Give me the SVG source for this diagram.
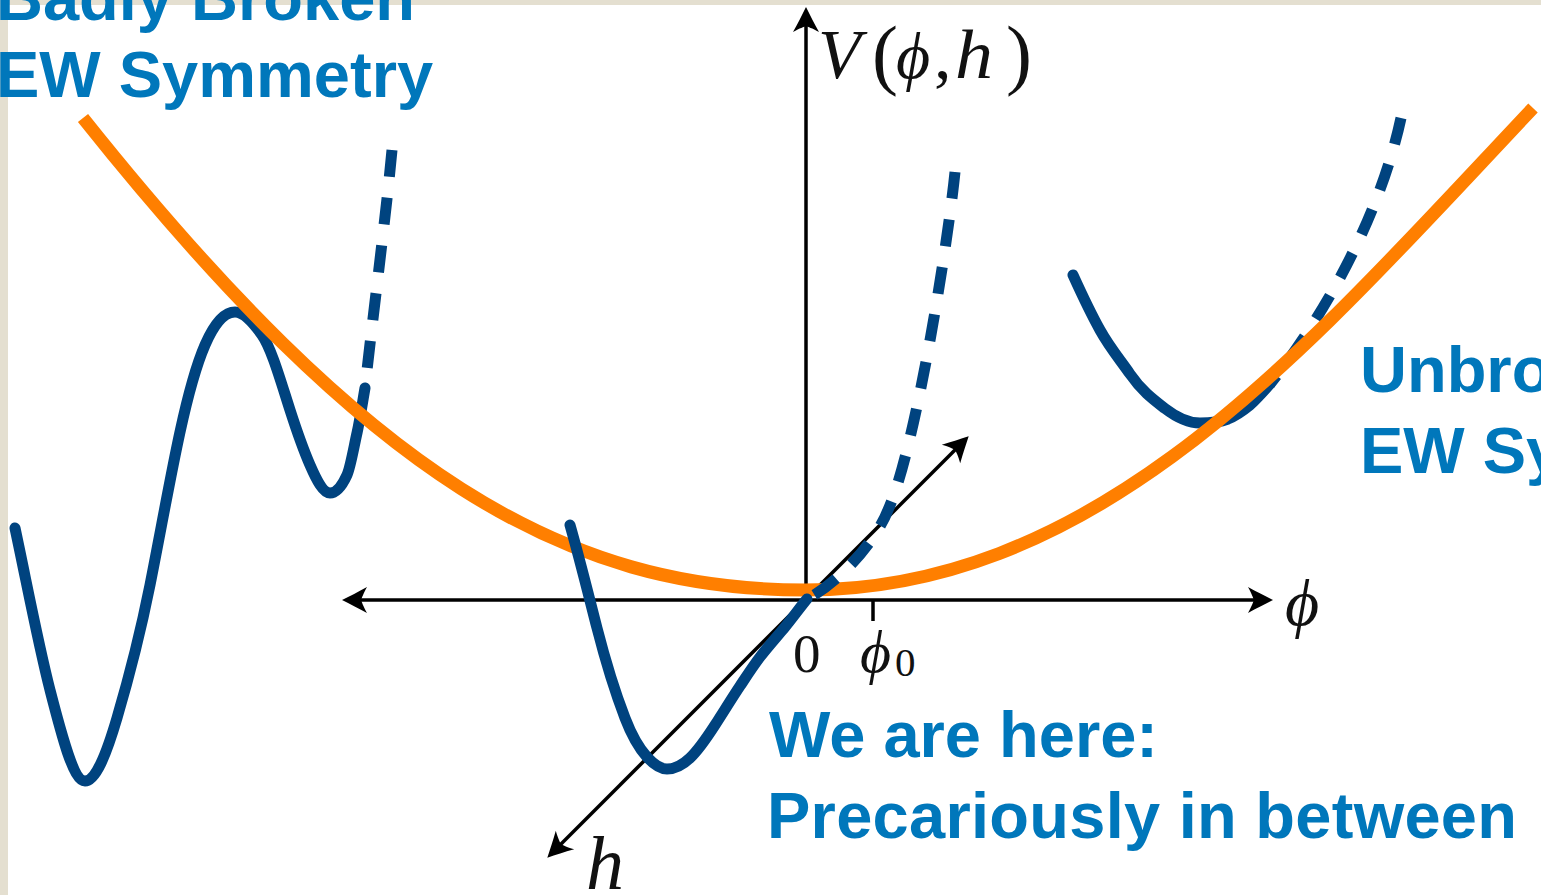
<svg xmlns="http://www.w3.org/2000/svg" width="1541" height="895" viewBox="0 0 1541 895">
<defs>
<style>
.bg{fill:#e4dfd0}
.paper{fill:#ffffff}
.axis{fill:none;stroke:#000;stroke-width:3.5}
.orange{fill:none;stroke:#ff7f00;stroke-width:13;stroke-linecap:butt}
.blue{fill:none;stroke:#00437f;stroke-width:11;stroke-linecap:round;stroke-linejoin:round}
.dash{fill:none;stroke:#00437f;stroke-width:11;stroke-linecap:butt;stroke-dasharray:27 21}
.lbl{font-family:"Liberation Sans",Arial,sans-serif;font-weight:bold;font-size:65px;fill:#0077bb}
.math{font-family:"Liberation Serif","DejaVu Serif",serif;font-style:italic;fill:#111}
.rm{font-style:normal}
</style>
<marker id="arr" viewBox="-28 -15 32 30" refX="-11" refY="0" markerWidth="32" markerHeight="30" markerUnits="userSpaceOnUse" orient="auto-start-reverse">
<path d="M1,0 C-7,-4 -15,-8 -24,-13 C-20,-6 -19,-2 -18,0 C-19,2 -20,6 -24,13 C-15,8 -7,4 1,0 Z" fill="#000"/>
</marker>
</defs>
<rect class="bg" x="0" y="0" width="1541" height="895"/>
<rect class="paper" x="8" y="5" width="1533" height="890"/>

<g id="connectors">
<line class="axis" x1="354" y1="600" x2="1261" y2="600" marker-start="url(#arr)" marker-end="url(#arr)"/>
<line class="axis" x1="806" y1="600" x2="806" y2="19" marker-end="url(#arr)"/>
<line class="axis" x1="555.8" y1="849.2" x2="960.2" y2="444.8" marker-start="url(#arr)" marker-end="url(#arr)"/>
<line class="axis" x1="873" y1="600" x2="873" y2="621"/>
</g>

<g id="curve-left">
<path class="blue" d="M15,528 C26.67,582.8 38.33,644.5 50,690 C61.67,735.5 73.33,781 85,781 C95.67,781 106.33,754.3 117,718 C128,680.6 139,640 150,585 C160,535 170,478 180,432 C188.33,393.7 196.67,364.2 205,345 C215,322 225,312 235,312 C244,312 253,322.4 262,335 C271.33,348.1 280.67,381.1 290,410 C296.67,430.7 303.33,449.7 310,465 C316.67,480.3 323.33,493 330,493 C335.67,493 341.33,487.5 347,475 C350.33,467.7 353.67,448 357,433 C359.67,421 362.33,403.5 365,388"/>
<path class="dash" d="M392,150 C386,215 373,315 365,388"/>
</g>

<g id="curve-right">
<path class="blue" d="M1073,275 C1082,294.8 1091,313.8 1100,330 C1110,348 1120,359.5 1130,374 C1141.67,390.9 1153.33,399.5 1165,408.5 C1176.67,417.5 1188.33,423 1200,423 C1209.33,423 1218.67,422.5 1228,419 C1235.33,416 1242.67,411 1250,405 C1256.67,399 1263.33,391.5 1270,384"/>
<path class="dash" d="M1401,118 C1380,215 1326,314 1270,384"/>
</g>

<g id="potential-orange">
<path class="orange" d="M83,118 C370,478 565,590 805,590 C1105,590 1313,341 1533,108"/>
</g>

<g id="curve-center">
<path class="blue" d="M570,525 C579,556.5 588,592.9 597,628 C606.33,664.4 615.67,693.7 625,718 C632.33,737.1 639.67,748.9 647,757 C653.67,764.3 660.33,769 667,769 C674.67,769 682.33,765.3 690,758 C698.33,750.1 706.67,737.9 715,725 C723.33,712.1 731.67,698.5 740,686 C746.67,676 753.33,665.7 760,657 C768.33,646.2 776.67,637 785,627 C792.33,618.2 799.67,607.8 807,599"/>
<path class="dash" d="M955,172 C947,250 915,450 888,510 C876,541 840,582 807,599"/>
</g>

<g id="axis-labels">
<text class="math" font-size="70" x="818" y="78">V</text>
<text class="math rm" font-size="78" x="872" y="80">(</text>
<text class="math" font-size="66" x="896" y="78">ϕ</text>
<text class="math rm" font-size="70" x="934" y="78">,</text>
<text class="math" font-size="70" x="955" y="78" textLength="38" lengthAdjust="spacingAndGlyphs">h</text>
<text class="math rm" font-size="78" x="1006" y="80">)</text>
<text class="math rm" font-size="55" x="793" y="672">0</text>
<text class="math" font-size="60" x="860" y="672">ϕ</text>
<text class="math rm" font-size="41" x="895" y="676">0</text>
<text class="math" font-size="66" x="1285" y="625">ϕ</text>
<text class="math" font-size="76" x="586" y="889">h</text>
</g>

<g id="label-broken">
<text class="lbl" x="-4" y="20">Badly Broken</text>
<text class="lbl" x="-4" y="97">EW Symmetry</text>
</g>
<g id="label-unbroken">
<text class="lbl" x="1360" y="392">Unbroken</text>
<text class="lbl" x="1360" y="473">EW Symmetry</text>
</g>
<g id="label-here">
<text class="lbl" x="769" y="757">We are here:</text>
<text class="lbl" x="767" y="838" textLength="750" lengthAdjust="spacing">Precariously in between</text>
</g>
</svg>
